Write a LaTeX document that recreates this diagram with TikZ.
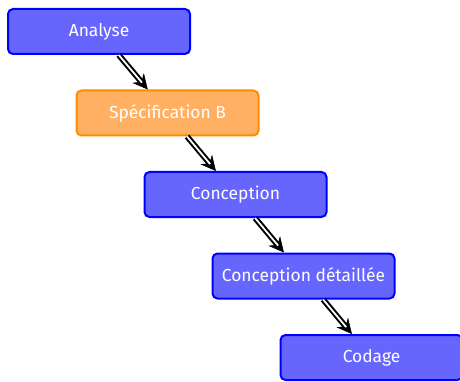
\documentclass[tikz,border=0pt]{standalone}
\usepackage{fontspec}
\setmainfont{Fira Sans}
\usetikzlibrary{arrows.meta}
\definecolor{boxblue}{HTML}{6666FF}
\definecolor{boxorange}{HTML}{FFB062}
\definecolor{edgeorange}{HTML}{FF8C00}
\begin{document}
\begin{tikzpicture}[x=1pt,y=-1pt,
  stage/.style={draw=blue, fill=boxblue, line width=2pt, rounded corners=5pt,
    minimum width=182pt, minimum height=45pt, text=white, font=\fontsize{17.4}{20}\selectfont, inner sep=0pt},
  spec/.style={stage, draw=edgeorange, fill=boxorange},
  flowhead/.style={line width=0.5pt, -{Stealth[length=15pt, width=15pt, inset=5pt]}},
  flowbody/.style={double, double distance=1.8pt, line width=2pt, shorten >=9pt}]
\useasboundingbox (0,0) rectangle (460,382);
\clip (0,0) rectangle (460,382);
\node[stage] (a) at (99,31.5) {Analyse};
\node[spec] (b) at (167.5,113) {Spécification B};
\node[stage] (c) at (235.5,194.5) {Conception};
\node[stage] (d) at (303.5,276) {Conception détaillée};
\node[stage] (e) at (371.5,357.5) {Codage};
\foreach \s/\t in {a/b, b/c, c/d, d/e} {
  \draw[flowhead] (\s) -- (\t);
  \draw[flowbody] (\s) -- (\t);
}
\end{tikzpicture}
\end{document}
